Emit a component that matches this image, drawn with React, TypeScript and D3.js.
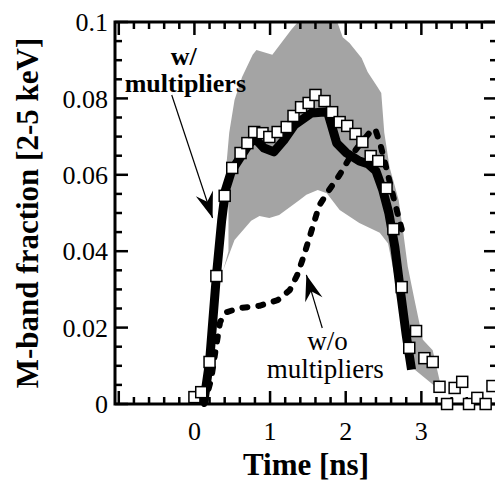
import React from 'react';
import * as d3 from 'd3';

// measured M-band fraction (open squares)
const measured: [number, number][] = [
  [0.0, 0.0018], [0.09, 0.0031], [0.20, 0.011], [0.29, 0.0335], [0.40, 0.0545],
  [0.50, 0.0618], [0.61, 0.0657], [0.70, 0.0683], [0.79, 0.0712], [0.90, 0.0709],
  [0.99, 0.0699], [1.10, 0.0712], [1.22, 0.0725], [1.31, 0.0754], [1.41, 0.0777],
  [1.51, 0.0788], [1.60, 0.0809], [1.72, 0.0793], [1.82, 0.0764], [1.92, 0.0738],
  [2.02, 0.0728], [2.13, 0.0707], [2.22, 0.0686], [2.33, 0.0649], [2.43, 0.0636],
  [2.54, 0.0565], [2.63, 0.0458], [2.74, 0.0306], [2.84, 0.0147], [2.93, 0.0191],
  [3.04, 0.012], [3.15, 0.011], [3.24, 0.0045], [3.34, 0.0], [3.44, 0.0042],
  [3.54, 0.0058], [3.63, 0.0], [3.74, 0.0016], [3.85, 0.0], [3.94, 0.0047],
];

// simulation with multipliers (thick solid)
const withMult: [number, number][] = [
  [0.12, 0.0], [0.20, 0.011], [0.29, 0.0335], [0.36, 0.048], [0.41, 0.056],
  [0.49, 0.061], [0.62, 0.065], [0.72, 0.068], [0.80, 0.0695], [0.92, 0.067],
  [1.05, 0.066], [1.18, 0.069], [1.32, 0.073], [1.55, 0.0762], [1.76, 0.0765],
  [1.88, 0.0683], [2.01, 0.0657], [2.18, 0.0636], [2.30, 0.0628], [2.40, 0.061],
  [2.49, 0.056], [2.57, 0.050], [2.65, 0.041], [2.72, 0.030], [2.80, 0.018],
  [2.87, 0.009],
];

// simulation without multipliers (thick dashed)
const withoutMult: [number, number][] = [
  [0.13, 0.0], [0.22, 0.0063], [0.29, 0.0154], [0.34, 0.0215], [0.42, 0.024],
  [0.59, 0.0251], [0.86, 0.0257], [1.10, 0.0272], [1.26, 0.0298], [1.36, 0.0338],
  [1.45, 0.039], [1.55, 0.0455], [1.65, 0.052], [1.78, 0.056], [1.92, 0.060],
  [2.05, 0.0644], [2.18, 0.0678], [2.31, 0.0709], [2.39, 0.072], [2.46, 0.0678],
  [2.55, 0.0607], [2.64, 0.0534], [2.75, 0.045],
];

// uncertainty band (gray)
const bandUpper: [number, number][] = [
  [0.38, 0.035], [0.45, 0.040], [0.45, 0.051], [0.42, 0.062], [0.46, 0.071],
  [0.53, 0.0796], [0.63, 0.0856], [0.77, 0.0914], [0.82, 0.0927], [1.03, 0.0914],
  [1.28, 0.098], [1.39, 0.1005], [1.6, 0.104], [1.88, 0.1005], [1.96, 0.096],
  [2.05, 0.0945], [2.21, 0.0906], [2.29, 0.0869], [2.42, 0.083], [2.47, 0.0814],
  [2.51, 0.071], [2.58, 0.062], [2.70, 0.0534], [2.76, 0.045], [2.82, 0.036],
  [2.91, 0.0272], [3.02, 0.0168], [3.15, 0.0141], [3.24, 0.0063], [3.27, 0.0045],
];
const bandLower: [number, number][] = [
  [0.38, 0.035], [0.53, 0.0429], [0.75, 0.048], [0.86, 0.0492], [0.99, 0.0487],
  [1.12, 0.0495], [1.39, 0.0534], [1.48, 0.0548], [1.63, 0.056], [1.75, 0.0552],
  [1.92, 0.0508], [2.18, 0.0474], [2.45, 0.0448], [2.56, 0.042], [2.64, 0.034],
  [2.74, 0.022], [2.82, 0.012], [2.87, 0.0097], [3.16, 0.005], [3.27, 0.0045],
];

const xTickLabels = [0, 1, 2, 3];
const yTickLabels = [0, 0.02, 0.04, 0.06, 0.08, 0.1];

const W = 495;
const H = 485;
const FONT = "'Liberation Serif', 'Times New Roman', serif";

const x = d3.scaleLinear().domain([-1.05, 4.0]).range([115, 497]);
const y = d3.scaleLinear().domain([0, 0.1]).range([404, 22]);

const line = d3.line<[number, number]>()
  .x(d => x(d[0]))
  .y(d => y(d[1]));

export default function App() {
  const [x0, x1] = x.range();
  const [y0, y1] = y.range();

  const xMinor = d3.range(-1.0, 4.0001, 0.2).map(v => +v.toFixed(2));
  const yMinor = d3.range(0, 0.1001, 0.005).map(v => +v.toFixed(3));

  const bandPath = line([...bandUpper, ...bandLower.slice().reverse()]) + 'Z';

  // annotation anchors in data units
  const arrow1 = [[-0.30, 0.0809], [0.24, 0.0487]];
  const arrow2 = [[1.69, 0.0199], [1.48, 0.0338]];

  return (
    <div style={{ position: 'absolute', left: 0, top: 0 }}>
      <svg width={W} height={H} style={{ display: 'block', background: '#fff' }} fontFamily={FONT}>
        <defs>
          <clipPath id="plot">
            <rect x={x0} y={y1} width={x1 - x0} height={y0 - y1} />
          </clipPath>
          <marker id="head" markerUnits="userSpaceOnUse" markerWidth={30} markerHeight={24}
            viewBox="-28 -12 30 24" refX={0} refY={0} orient="auto">
            <path d="M0,0 L-26,-9 L-17,0 L-26,9 Z" fill="#000" />
          </marker>
        </defs>

        <path d={bandPath} fill="#a4a4a4" clipPath="url(#plot)" />

        {/* frame */}
        <rect x={x0} y={y1} width={x1 - x0} height={y0 - y1} fill="none" stroke="#000" strokeWidth={3} />

        {xMinor.map(v => {
          const major = Math.abs(v - Math.round(v)) < 1e-6;
          const len = major ? 13 : 7;
          return (
            <g key={'xt' + v} stroke="#000" strokeWidth={2.5}>
              <line x1={x(v)} x2={x(v)} y1={y0} y2={y0 - len} />
              <line x1={x(v)} x2={x(v)} y1={y1} y2={y1 + len} />
            </g>
          );
        })}
        {yMinor.map(v => {
          const major = Math.abs(v / 0.02 - Math.round(v / 0.02)) < 1e-6;
          const len = major ? 13 : 7;
          return (
            <g key={'yt' + v} stroke="#000" strokeWidth={2.5}>
              <line x1={x0} x2={x0 + len} y1={y(v)} y2={y(v)} />
              <line x1={x1} x2={x1 - len} y1={y(v)} y2={y(v)} />
            </g>
          );
        })}

        {xTickLabels.map(v => (
          <text key={'xl' + v} x={x(v)} y={440} textAnchor="middle" fontSize={26}>{v}</text>
        ))}
        {yTickLabels.map(v => (
          <text key={'yl' + v} x={108} y={y(v)} dy="0.35em" textAnchor="end" fontSize={26}>{String(v)}</text>
        ))}

        <text x={(x0 + x1) / 2} y={475} textAnchor="middle" fontSize={31} fontWeight="bold">Time [ns]</text>
        <text transform={`translate(38,${(y0 + y1) / 2}) rotate(-90)`} textAnchor="middle" fontSize={31} fontWeight="bold">
          M-band fraction [2-5 keV]
        </text>

        <path d={line(withMult) || ''} fill="none" stroke="#000" strokeWidth={9} strokeLinejoin="round" />
        <path d={line(withoutMult) || ''} fill="none" stroke="#000" strokeWidth={6} strokeDasharray="5 11"
          strokeLinecap="round" strokeLinejoin="round" />

        {measured.map((d, i) => (
          <rect key={'m' + i} x={x(d[0]) - 5.5} y={y(d[1]) - 5.5} width={11} height={11}
            fill="#fff" stroke="#000" strokeWidth={1.5} />
        ))}

        {/* annotations */}
        <line x1={x(arrow1[0][0])} y1={y(arrow1[0][1])} x2={x(arrow1[1][0])} y2={y(arrow1[1][1])}
          stroke="#000" strokeWidth={1.2} markerEnd="url(#head)" />
        <line x1={x(arrow2[0][0])} y1={y(arrow2[0][1])} x2={x(arrow2[1][0])} y2={y(arrow2[1][1])}
          stroke="#000" strokeWidth={1.2} markerEnd="url(#head)" />

        <text x={x(-0.14)} y={y(0.0887)} textAnchor="middle" fontSize={26} fontWeight="bold">w/</text>
        <text x={x(-0.12)} y={y(0.0817)} textAnchor="middle" fontSize={26} fontWeight="bold">multipliers</text>
        <text x={x(1.76)} y={y(0.0141)} textAnchor="middle" fontSize={27}>w/o</text>
        <text x={x(1.73)} y={y(0.0068)} textAnchor="middle" fontSize={27}>multipliers</text>
      </svg>
    </div>
  );
}
